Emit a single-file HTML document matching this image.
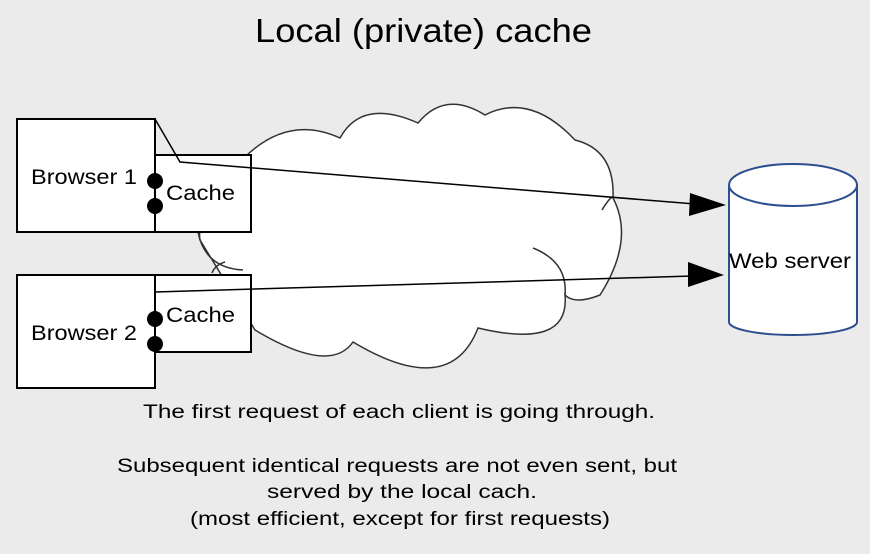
<!DOCTYPE html>
<html><head><style>
html,body{margin:0;padding:0;background:#ebebeb;}
svg{display:block;font-family:"Liberation Sans",sans-serif;}
</style></head><body>
<svg width="870" height="554" viewBox="0 0 870 554">
<rect width="870" height="554" fill="#ebebeb"/>
<text x="255" y="42" font-size="33" textLength="337" lengthAdjust="spacingAndGlyphs" fill="#000">Local (private) cache</text>
<path d="M247,155 Q290,115 340,138 Q362,98 418,123 Q445,90 485,115 Q530,92 575,140 Q615,150 613,198 Q635,240 600,295 Q575,305 565,295 Q570,350 478,328 Q450,400 353,342 Q330,375 255,330 L200,240 Q195,215 247,155 Z" fill="#fff" stroke="#333" stroke-width="1.5"/>
<path d="M198,232 Q205,268 243,270" fill="none" stroke="#333" stroke-width="1.5"/>
<path d="M212,273 Q215,265 225,262" fill="none" stroke="#333" stroke-width="1.5"/>
<path d="M602,210 Q608,200 612,197" fill="none" stroke="#333" stroke-width="1.5"/>
<path d="M533,248 Q568,262 565,295" fill="none" stroke="#333" stroke-width="1.5"/>
<rect x="17" y="119" width="138" height="113" fill="#fff" stroke="#000" stroke-width="2"/>
<rect x="155" y="155" width="96" height="77" fill="#fff" stroke="#000" stroke-width="2"/>
<rect x="17" y="275" width="138" height="113" fill="#fff" stroke="#000" stroke-width="2"/>
<rect x="155" y="275" width="96" height="77" fill="#fff" stroke="#000" stroke-width="2"/>
<circle cx="155" cy="181" r="8" fill="#000"/>
<circle cx="155" cy="206" r="8" fill="#000"/>
<circle cx="155" cy="319" r="8" fill="#000"/>
<circle cx="155" cy="344" r="8" fill="#000"/>
<text x="31" y="184" font-size="21" textLength="106" lengthAdjust="spacingAndGlyphs">Browser 1</text>
<text x="166" y="200" font-size="21" textLength="69" lengthAdjust="spacingAndGlyphs">Cache</text>
<text x="31" y="340" font-size="21" textLength="106" lengthAdjust="spacingAndGlyphs">Browser 2</text>
<text x="166" y="322" font-size="21" textLength="69" lengthAdjust="spacingAndGlyphs">Cache</text>
<polyline points="155,119 180,162 695,204" fill="none" stroke="#000" stroke-width="1.5"/>
<polygon points="726,205 690,193 689,216" fill="#000"/>
<line x1="155" y1="292" x2="692" y2="276" stroke="#000" stroke-width="1.5"/>
<polygon points="724,275 688,262 688,287" fill="#000"/>
<path d="M729,185 L729,322 A64,13 0 0 0 857,322 L857,185" fill="#fff" stroke="#2c4f8f" stroke-width="2"/>
<ellipse cx="793" cy="185" rx="64" ry="21" fill="#fff" stroke="#2c4f8f" stroke-width="2"/>
<text x="729" y="268" font-size="21" textLength="122" lengthAdjust="spacingAndGlyphs">Web server</text>
<g font-size="19" fill="#000">
<text x="143" y="418" textLength="512" lengthAdjust="spacingAndGlyphs">The first request of each client is going through.</text>
<text x="117" y="472" textLength="560" lengthAdjust="spacingAndGlyphs">Subsequent identical requests are not even sent, but</text>
<text x="267" y="498" textLength="270" lengthAdjust="spacingAndGlyphs">served by the local cach.</text>
<text x="190" y="525" textLength="420" lengthAdjust="spacingAndGlyphs">(most efficient, except for first requests)</text>
</g>
</svg>
</body></html>
